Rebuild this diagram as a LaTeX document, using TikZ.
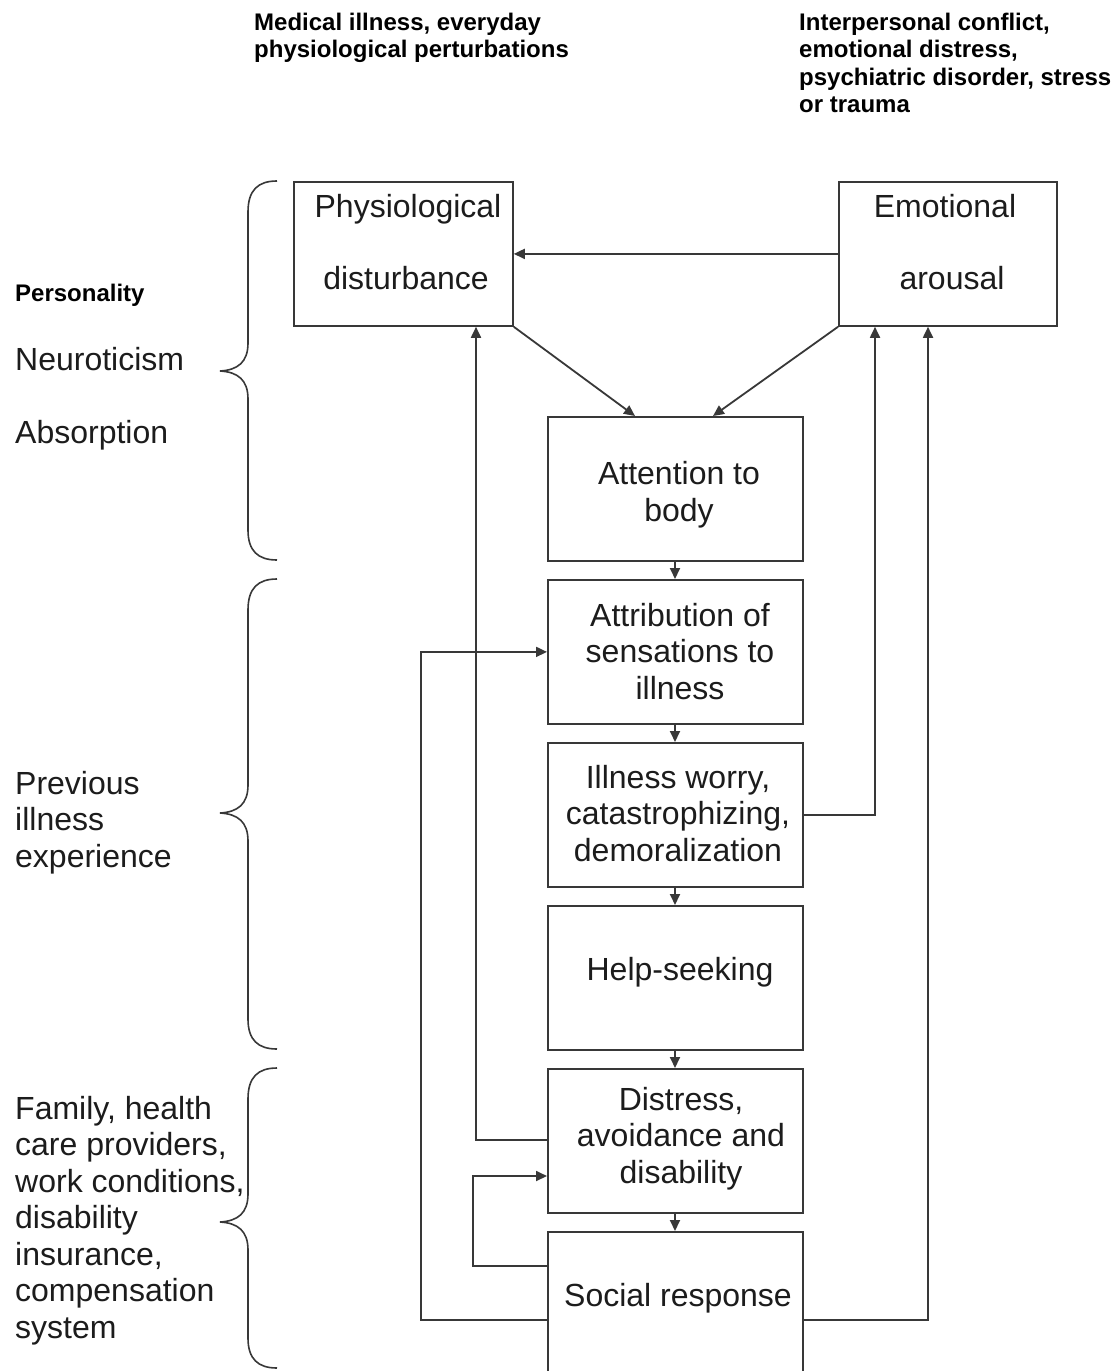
\documentclass[tikz,border=0pt]{standalone}
\usepackage{fontspec}
\setmainfont{Liberation Sans}
\usetikzlibrary{arrows.meta}
\definecolor{lc}{HTML}{383838}
\definecolor{tc}{HTML}{1C1C1C}
\newcommand\fbig{\fontsize{32}{36.5}\selectfont}
\newcommand\fsml{\fontsize{24}{27.3}\selectfont\bfseries}
\begin{document}
\begin{tikzpicture}[x=1pt,y=-1pt,
  box/.style={draw=lc, line width=1.8pt, minimum width=255pt, minimum height=144pt, inner sep=0pt, anchor=north west},
  arr/.style={draw=lc, line width=1.8pt, -{Triangle[length=11pt,width=10pt]}},
  btxt/.style={font=\fbig, text=tc, inner sep=0pt, align=center, anchor=base},
  ltxt/.style={font=\fbig, text=tc, inner sep=0pt, align=left, anchor=base west},
  stxt/.style={font=\fsml, text=black, inner sep=0pt, align=left, anchor=base west},
  brc/.style={draw=lc, line width=1.6pt}]
\useasboundingbox (0,0) rectangle (1117,1371);
\clip (0,0) rectangle (1117,1371);
\fill[white] (0,0) rectangle (1117,1371);

% boxes
\node[box, minimum width=219pt] (phys) at (293,181) {};
\node[box, minimum width=218pt] (emot) at (838,181) {};
\node[box] (att) at (547,416) {};
\node[box] (attr) at (547,579) {};
\node[box] (worry) at (547,742) {};
\node[box] (help) at (547,905) {};
\node[box] (dist) at (547,1068) {};
\node[box] (soc) at (547,1231) {};

% box texts (anchor = baseline of last line)
\node[btxt] (physA) at (408,217) {Physiological};
\node[btxt] (physB) at (406,289) {disturbance};
\node[btxt] (emotA) at (945,217) {Emotional};
\node[btxt] (emotB) at (952,289) {arousal};
\node[btxt] (attT) at (679,521) {Attention to\\body};
\node[btxt] (attrT) at (680,699) {Attribution of\\sensations to\\illness};
\node[btxt] (worryT) at (678,861) {Illness worry,\\catastrophizing,\\demoralization};
\node[btxt] (helpT) at (680,980) {Help-seeking};
\node[btxt] (distT) at (681,1183) {Distress,\\avoidance and\\disability};
\node[btxt] (socT) at (678,1306) {Social response};

% top texts
\node[stxt] (topL) at (254,57.8) {Medical illness, everyday\\physiological perturbations};
\node[stxt] (topR) at (799,112.4) {Interpersonal conflict,\\emotional distress,\\psychiatric disorder, stress\\or trauma};

% left texts
\node[stxt] (pers) at (15,301.5) {Personality};
\node[ltxt] (neur) at (15,370) {Neuroticism};
\node[ltxt] (abso) at (15,443) {Absorption};
\node[ltxt] (prev) at (15,867) {Previous\\illness\\experience};
\node[ltxt] (fam) at (15,1338) {Family, health\\care providers,\\work conditions,\\disability\\insurance,\\compensation\\system};

% braces
\draw[brc] (277,181) .. controls (258,181) and (248,190) .. (248,212) -- (248,343)
  .. controls (248,362) and (238,370) .. (220,371)
  .. controls (238,372) and (248,380) .. (248,399) -- (248,530)
  .. controls (248,551) and (258,560) .. (277,560);
\draw[brc] (277,579) .. controls (258,579) and (248,588) .. (248,610) -- (248,785)
  .. controls (248,804) and (238,812) .. (220,813)
  .. controls (238,814) and (248,822) .. (248,841) -- (248,1019)
  .. controls (248,1040) and (258,1049) .. (277,1049);
\draw[brc] (277,1068) .. controls (258,1068) and (248,1077) .. (248,1099) -- (248,1194)
  .. controls (248,1213) and (238,1221) .. (220,1222)
  .. controls (238,1223) and (248,1231) .. (248,1250) -- (248,1338)
  .. controls (248,1359) and (258,1368) .. (277,1368);

% connectors
\draw[arr] (emot.west) -- (phys.east);
\draw[arr] (phys.south east) -- ([xshift=88pt]att.north west);
\draw[arr] (emot.south west) -- ([xshift=166pt]att.north west);
\draw[arr] ([xshift=128pt]att.south west) -- ([xshift=128pt]attr.north west);
\draw[arr] ([xshift=128pt]attr.south west) -- ([xshift=128pt]worry.north west);
\draw[arr] ([xshift=128pt]worry.south west) -- ([xshift=128pt]help.north west);
\draw[arr] ([xshift=128pt]help.south west) -- ([xshift=128pt]dist.north west);
\draw[arr] ([xshift=128pt]dist.south west) -- ([xshift=128pt]soc.north west);
\draw[arr] (worry.east) -| ([xshift=37pt]emot.south west);
\draw[arr] ([yshift=-89pt]soc.north east) -| ([xshift=90pt]emot.south west);
\draw[arr] ([yshift=-72pt]dist.north west) -| ([xshift=183pt]phys.south west);
\draw[arr] ([yshift=-89pt]soc.north west) -- ++(-126,0) |- (attr.west);
\draw[arr] ([yshift=-35pt]soc.north west) -- ++(-74,0) |- ([yshift=-108pt]dist.north west);
\end{tikzpicture}
\end{document}
